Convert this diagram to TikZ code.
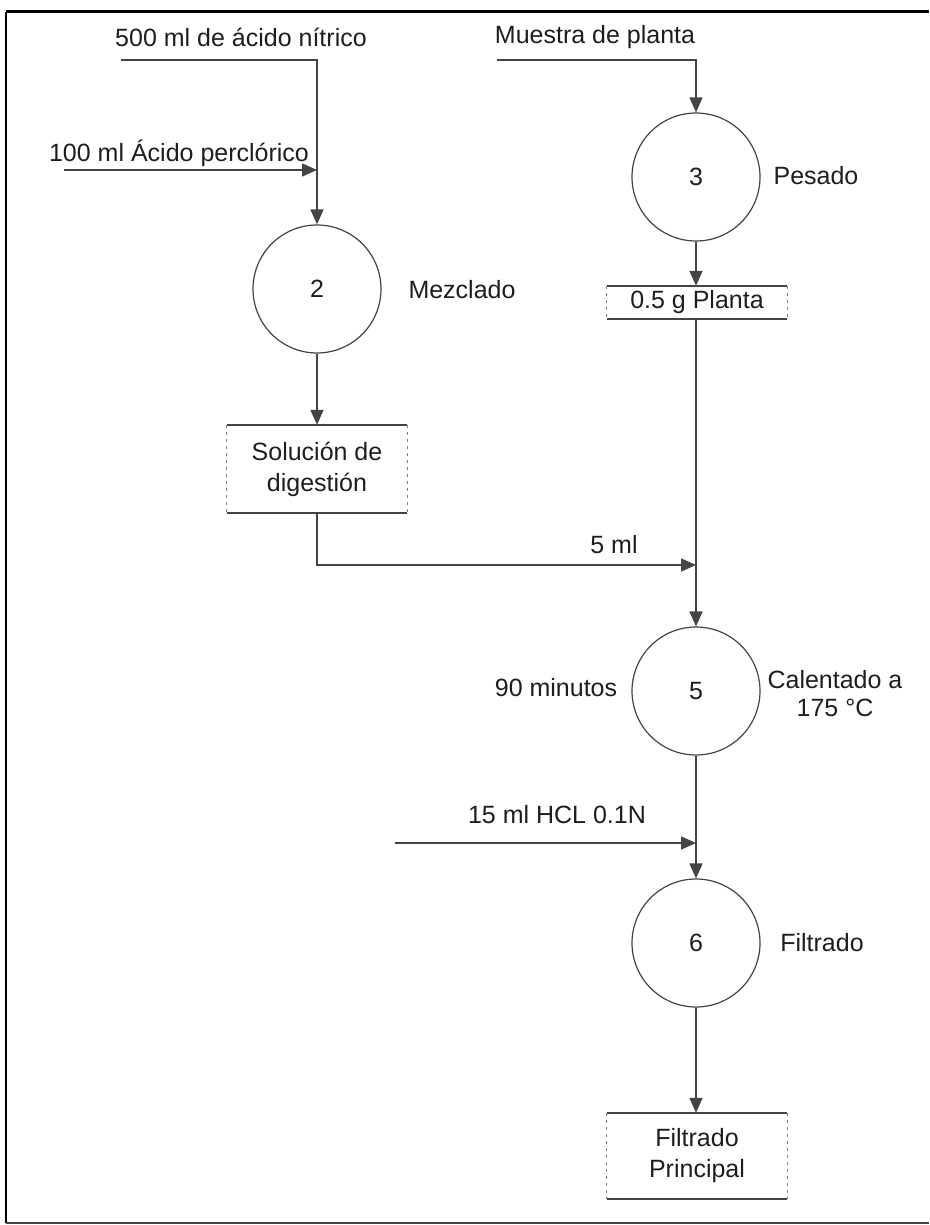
\documentclass[tikz,border=0pt]{standalone}
\usepackage{fontspec}
\setmainfont{Liberation Sans}
\usetikzlibrary{arrows.meta}
\definecolor{linegray}{HTML}{444444}
\definecolor{txt}{HTML}{1E1E1E}
\begin{document}
\begin{tikzpicture}[x=1pt,y=-1pt,
  flow/.style={draw=linegray, line width=1.6pt},
  arr/.style={flow, -{Triangle[length=15pt,width=13pt]}},
  op/.style={circle, draw=linegray, line width=1.2pt, minimum size=128pt,
    inner sep=0pt, text=txt, font=\fontsize{25}{30}\selectfont},
  store/.style={minimum width=180pt, inner sep=0pt, align=center, text=txt,
    font=\fontsize{25}{31}\selectfont},
  lbl/.style={inner sep=0pt, text=txt, align=center, font=\fontsize{25}{28}\selectfont},
  solidedge/.style={draw=linegray, line width=1.6pt},
  dashedge/.style={draw=gray, line width=1pt, dash pattern=on 3pt off 4pt}
]
\useasboundingbox (0,0) rectangle (929,1225);
\fill[white] (0,0) rectangle (929,1225);

% outer frame
\draw[black, line width=3pt] (6,12) -- (929,12);
\draw[black, line width=2.5pt] (6,12) -- (6,1223);
\draw[linegray, line width=2pt] (6,1223) -- (929,1223);

% operations
\node[op] (c2) at (317,289) {2};
\node[op] (c3) at (696,177) {3};
\node[op] (c5) at (696,691) {5};
\node[op] (c6) at (696,943) {6};

% intermediate products
\node[store, minimum height=88pt] (sd) at (317,469) {Solución de\\digestión};
\node[store, minimum height=33pt] (pl) at (697,302.5) {0.5 g Planta};
\node[store, minimum height=86pt] (fp) at (697,1156) {Filtrado\\Principal};
\foreach \b in {sd,pl,fp}{
  \draw[solidedge] (\b.north west) -- (\b.north east);
  \draw[solidedge] (\b.south west) -- (\b.south east);
  \draw[dashedge] (\b.north west) -- (\b.south west);
  \draw[dashedge] (\b.north east) -- (\b.south east);
}

% labels
\node[lbl] (tn) at (241,37) {500 ml de ácido nítrico};
\node[lbl] (tp) at (179,153) {100 ml Ácido perclórico};
\node[lbl] (tm) at (595,37) {Muestra de planta};
\node[lbl] (tpes) at (816,176) {Pesado};
\node[lbl] (tmez) at (462,290) {Mezclado};
\node[lbl] (t5) at (614,545) {5 ml};
\node[lbl] (t90) at (556,688) {90 minutos};
\node[lbl] (tcal) at (835,694) {Calentado a\\175 °C};
\node[lbl] (thcl) at (557,815) {15 ml HCL 0.1N};
\node[lbl] (tfil) at (822,943) {Filtrado};

% feed points and corners
\coordinate (n0) at (121,60);
\coordinate (n1) at (c2.north |- n0);
\coordinate (p0) at (64,170);
\coordinate (p1) at (c2.north |- p0);
\coordinate (m0) at (497,60);
\coordinate (m1) at (c3.north |- m0);
\coordinate (s1) at (sd.south |- 0,565);
\coordinate (s2) at (c5.north |- s1);
\coordinate (h0) at (395,843);
\coordinate (h1) at (c5.south |- h0);

% connectors
\draw[arr] (n0) -- (n1) -- (c2.north);
\draw[arr] (p0) -- (p1);
\draw[arr] (c2.south) -- (sd.north);
\draw[arr] (sd.south) -- (s1) -- (s2);
\draw[arr] (m0) -- (m1) -- (c3.north);
\draw[arr] (c3.south) -- (c3.south |- pl.north);
\draw[arr] (c3.south |- pl.south) -- (c5.north);
\draw[arr] (h0) -- (h1);
\draw[arr] (c5.south) -- (c6.north);
\draw[arr] (c6.south) -- (c6.south |- fp.north);
\end{tikzpicture}
\end{document}
